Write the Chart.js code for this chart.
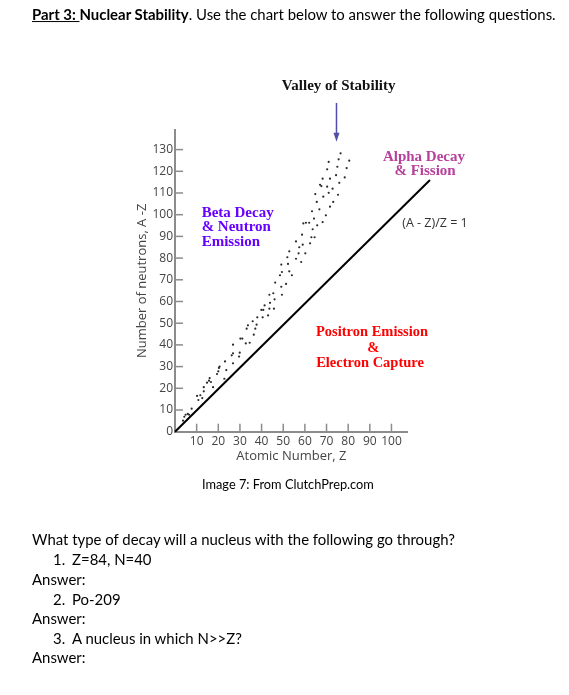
<!DOCTYPE html>
<html><head><meta charset="utf-8">
<script src="https://cdn.jsdelivr.net/npm/chart.js@4.4.0/dist/chart.umd.min.js"></script>
<style>
html,body{margin:0;padding:0;background:#fff;}
body{width:569px;height:695px;position:relative;overflow:hidden;font-family:Lato,'Open Sans',sans-serif;color:#000;}
#c{position:absolute;left:0;top:0;}
.t{position:absolute;white-space:nowrap;line-height:1.2;transform:translateY(-50%);}
</style></head><body>
<canvas id="c" width="569" height="695"></canvas>
<div class="t fit" data-w="524" style="left:32px;top:15px;"><b><u>Part 3: </u>Nuclear Stability</b>. Use the chart below to answer the following questions.</div>
<div class="t fit" data-w="172" style="left:202px;top:485px;">Image 7: From ClutchPrep.com</div>
<div class="t fit base" data-w="423" style="left:32px;top:540px;">What type of decay will a nucleus with the following go through?</div>
<div class="t g" style="left:53px;top:560px;">1.</div>
<div class="t g" style="left:72px;top:560px;">Z=84, N=40</div>
<div class="t g" style="left:32px;top:580px;">Answer:</div>
<div class="t g" style="left:53px;top:600px;">2.</div>
<div class="t g" style="left:72px;top:600px;">Po-209</div>
<div class="t g" style="left:32px;top:619px;">Answer:</div>
<div class="t g" style="left:53px;top:639px;">3.</div>
<div class="t g" style="left:72px;top:639px;">A nucleus in which N&gt;&gt;Z?</div>
<div class="t g" style="left:32px;top:658px;">Answer:</div>
<script>
// ---- data ----
const atomicNumberZ = [
 76.5,71,75.6,80.5,70.3,75,79.3,74.4,68.2,71.6,78.4,75.9,67,67.6,70.3,72.8,71,64.8,75.3,68.5,
 65.5,73.1,71.6,66.7,63.3,69.7,64.2,59.3,60.5,62,68.2,65.7,63.6,58.7,63,64.5,
 55.9,59,62.4,57.4,52.8,57.1,60.2,51.9,55.9,49.1,52.2,58.3,49.4,52.8,48.5,54,46.3,51.3,49.1,
 45.4,43.6,49.4,46,43.9,41.4,39.9,40.8,43.6,45.7,43,38,40.5,35.9,37.7,33.7,33.1,37.1,
 36.4,30.2,31.1,32.7,34.5,26.8,26.8,26.2,29.9,29.6,23.1,26.8,20.6,20.3,23.7,20,19.4,22.8,
 16,15.7,16.6,14.8,13.3,17.6,13.3,11.7,10.2,10.8,12.6,7.7,5.9,4.9,6.5,4.3,3.7
];
const neutronN = [
 128.3,124.3,125.5,124.9,120.9,122.1,121.5,118.2,116.6,116.6,117.2,114.7,113.8,113.2,112.9,112,110.1,109.5,109.2,108.3,
 105.9,105.9,103.7,102.5,101.6,99.7,98.2,96,96.3,96.3,96.6,95.1,93.3,90.8,89.6,89.6,
 87.7,86.2,86.8,85,83.1,82.2,82.2,80.4,79.7,77,77.3,78.2,73.6,73.9,72.1,72.1,68.7,68.1,66.8,
 63.8,63.1,63.1,61,59.4,58.2,56.1,56.1,56.7,56.7,53.6,52.7,52.7,50.9,49.3,49,47.5,47.5,
 44.7,42.9,42.9,40.7,41,40.1,36.1,35.2,36.4,34.6,32.4,31.5,30,29.4,28.4,27.8,26.6,24.4,
 24.7,23.5,22.9,22.6,20.5,20.5,18.6,16.8,16.5,14.6,15.5,10.6,8.2,7.8,7.8,6.9,5.1
];
const lineZ = [0, 117.8];
const lineN = [0, 116];
const xTickValues = [10,20,30,40,50,60,70,80,90,100];
const yTickValues = [0,10,20,30,40,50,60,70,80,90,100,110,120,130];
const xAxisMax = 107.5;
const yAxisMax = 139;

// ---- page text sizing ----
function fitEl(el, target){
  el.style.fontSize='15px';
  const w = el.getBoundingClientRect().width;
  const fs = 15*target/w;
  el.style.fontSize = fs.toFixed(2)+'px';
  return fs;
}
let baseFs = 14.5;
document.querySelectorAll('.fit').forEach(el=>{
  const fs = fitEl(el, +el.dataset.w);
  if (el.classList.contains('base')) baseFs = fs;
});
document.querySelectorAll('.g').forEach(el=>{ el.style.fontSize = baseFs.toFixed(2)+'px'; });

// ---- chart ----
const TICK_FONT = {family:"'Open Sans', sans-serif", size:12};
const AXIS_GRAY = '#8c8c8c';
const decor = {
  id:'decor',
  beforeDatasetsDraw(chart){
    const {ctx, scales:{x,y}, chartArea:a} = chart;
    ctx.save();
    ctx.strokeStyle = AXIS_GRAY; ctx.lineWidth = 1.5;
    x.ticks.forEach(t=>{const p=x.getPixelForValue(t.value);ctx.beginPath();ctx.moveTo(p,a.bottom);ctx.lineTo(p,a.bottom-8);ctx.stroke();});
    y.ticks.forEach(t=>{if(t.value===0)return;const p=y.getPixelForValue(t.value);ctx.beginPath();ctx.moveTo(a.left,p);ctx.lineTo(a.left+8,p);ctx.stroke();});
    ctx.restore();
  },
  afterDraw(chart){
    const {ctx, scales:{x,y}} = chart;
    const X=v=>x.getPixelForValue(v), Y=v=>y.getPixelForValue(v);
    const serif = s=>"bold "+s+"px 'Liberation Serif','Times New Roman',serif";
    function txt(s,z,n,font,color,align){
      ctx.font=font; ctx.fillStyle=color; ctx.textAlign=align||'center'; ctx.textBaseline='middle';
      ctx.fillText(s,X(z),Y(n));
    }
    ctx.save();
    txt('Valley of Stability',75.6,159.3,serif(15),'#111');
    // arrow
    const ax=X(74.6), ay0=Y(151.5), ay1=Y(133.6);
    ctx.strokeStyle='#5050aa'; ctx.fillStyle='#5050aa'; ctx.lineWidth=1.5;
    ctx.beginPath(); ctx.moveTo(ax,ay0); ctx.lineTo(ax,ay1-8); ctx.stroke();
    ctx.beginPath(); ctx.moveTo(ax-3,ay1-9); ctx.lineTo(ax+3,ay1-9); ctx.lineTo(ax,ay1); ctx.closePath(); ctx.fill();
    txt('Alpha Decay',115,126.7,serif(15),'#b8409c');
    txt('& Fission',115.5,120.1,serif(15),'#b8409c');
    txt('(A - Z)/Z = 1',120.1,96.2,"12.5px 'Open Sans',sans-serif",'#333');
    txt('Beta Decay',12.3,100.9,serif(15),'#6600ff','left');
    txt('& Neutron',12.3,94.2,serif(15),'#6600ff','left');
    txt('Emission',12.3,87.3,serif(15),'#6600ff','left');
    txt('Positron Emission',91,45.6,serif(14.5),'#ff0000');
    txt('&',91.6,38.4,serif(14.5),'#ff0000');
    txt('Electron Capture',90.1,31.7,serif(14.5),'#ff0000');
    ctx.restore();
  }
};

new Chart(document.getElementById('c'), {
  type:'scatter',
  data:{datasets:[
    {label:'Stable nuclei', data:atomicNumberZ.map((z,i)=>({x:z,y:neutronN[i]})),
     pointRadius:1.1, pointHoverRadius:1.1, backgroundColor:'#2a2a2a', borderWidth:0},
    {label:'(A - Z)/Z = 1', data:lineZ.map((z,i)=>({x:z,y:lineN[i]})), showLine:true,
     borderColor:'#000', borderWidth:2, pointRadius:0, clip:false}
  ]},
  options:{
    responsive:false, animation:false, devicePixelRatio:1,
    layout:{padding:{left:130.7, top:130.07, right:569-175-232.7, bottom:695-468.5}},
    plugins:{legend:{display:false}, tooltip:{enabled:false}},
    scales:{
      x:{type:'linear', min:0, max:xAxisMax,
        afterBuildTicks:s=>{s.ticks = xTickValues.map(v=>({value:v}));},
        afterFit:s=>{s.height = 36.8;},
        grid:{display:false, drawTicks:false},
        border:{display:true, color:AXIS_GRAY, width:2},
        ticks:{font:TICK_FONT, color:'#444', padding:3, maxRotation:0, autoSkip:false},
        title:{display:true, text:'Atomic Number, Z', font:{family:"'Open Sans', sans-serif", size:13}, color:'#444', padding:{top:4,bottom:4}}
      },
      y:{type:'linear', min:0, max:yAxisMax,
        afterBuildTicks:s=>{s.ticks = yTickValues.map(v=>({value:v}));},
        afterFit:s=>{s.width = 44.3;},
        grid:{display:false, drawTicks:false},
        border:{display:true, color:AXIS_GRAY, width:2},
        ticks:{font:TICK_FONT, color:'#444', padding:2, autoSkip:false},
        title:{display:true, text:'Number of neutrons, A -Z', font:{family:"'Open Sans', sans-serif", size:13}, color:'#444', padding:{top:4,bottom:4}}
      }
    }
  },
  plugins:[decor]
});
</script>
</body></html>
